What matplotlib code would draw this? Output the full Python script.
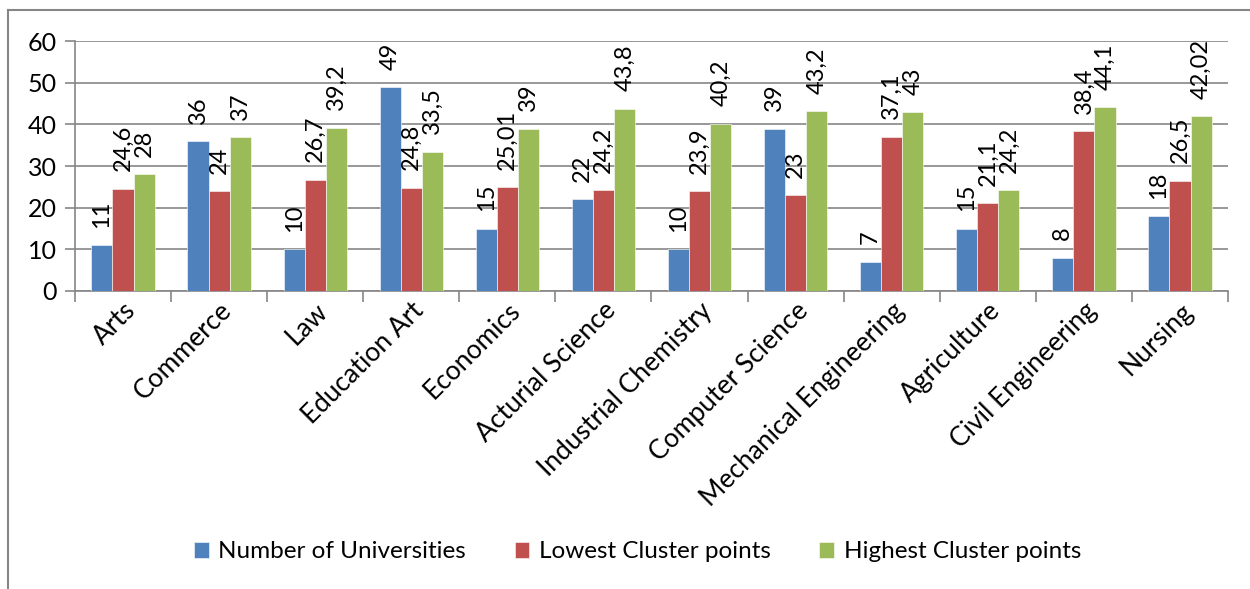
import matplotlib.pyplot as plt
import numpy as np
from matplotlib.lines import Line2D

categories = ["Arts", "Commerce", "Law", "Education Art", "Economics",
              "Acturial Science", "Industrial Chemistry", "Computer Science",
              "Mechanical Engineering", "Agriculture", "Civil Engineering",
              "Nursing"]
universities = [11, 36, 10, 49, 15, 22, 10, 39, 7, 15, 8, 18]
lowest = [24.6, 24, 26.7, 24.8, 25.01, 24.2, 23.9, 23, 37.1, 21.1, 38.4, 26.5]
highest = [28, 37, 39.2, 33.5, 39, 43.8, 40.2, 43.2, 43, 24.2, 44.1, 42.02]
uni_labels = ["11", "36", "10", "49", "15", "22", "10", "39", "7", "15", "8", "18"]
low_labels = ["24,6", "24", "26,7", "24,8", "25,01", "24,2", "23,9", "23",
              "37,1", "21,1", "38,4", "26,5"]
high_labels = ["28", "37", "39,2", "33,5", "39", "43,8", "40,2", "43,2",
               "43", "24,2", "44,1", "42,02"]

series = [
    ("Number of Universities", universities, uni_labels, "#4f81bd"),
    ("Lowest Cluster points", lowest, low_labels, "#c0504d"),
    ("Highest Cluster points", highest, high_labels, "#9bbb59"),
]

plt.rcParams["font.family"] = ["Lato", "DejaVu Sans"]
grey = "#868686"

fig = plt.figure(figsize=(12.5, 5.89), dpi=100)
ax = fig.add_axes([0.06, 0.506, 0.9224, 0.424])

x = np.arange(len(categories))
w = 0.22
for i, (name, vals, labs, col) in enumerate(series):
    pos = x + (i - 1) * w
    ax.bar(pos, vals, width=w, color=col, label=name, zorder=3,
           edgecolor="white", linewidth=0.4)
    for p, v, lab in zip(pos, vals, labs):
        ax.annotate(lab, (p, v), xytext=(0, 12.5), textcoords="offset points",
                    rotation=90, ha="center", va="bottom", fontsize=17,
                    annotation_clip=False)

ax.set_xlim(-0.5, len(categories) - 0.5)
ax.set_ylim(0, 60)
ax.set_yticks(range(0, 61, 10))
ax.set_xticks(x)
ax.set_xticklabels(categories, rotation=45, ha="right",
                   rotation_mode="anchor", fontsize=19)
ax.set_xticks(np.arange(-0.5, len(categories)), minor=True)
ax.tick_params(axis="x", which="major", length=0, pad=5)
ax.tick_params(axis="x", which="minor", length=8, color=grey, width=1.2,
               direction="out")
ax.tick_params(axis="y", labelsize=18, length=7, color=grey, width=1.2, pad=6)
ax.grid(axis="y", color=grey, linewidth=1.2, zorder=0)
for s in ["top", "right"]:
    ax.spines[s].set_visible(False)
for s in ["left", "bottom"]:
    ax.spines[s].set_color(grey)
    ax.spines[s].set_linewidth(1.2)

fig.legend(loc="center", bbox_to_anchor=(0.51, 0.063), ncol=3, frameon=False,
           fontsize=17.5, handlelength=0.6, handleheight=0.6,
           handletextpad=0.4, columnspacing=2.0)

# chart border (partially outside the picture)
fig.add_artist(Line2D([8 / 1250, 8 / 1250], [0, 1 - 10 / 589], color=grey,
                      linewidth=1.5))
fig.add_artist(Line2D([8 / 1250, 1], [1 - 10 / 589, 1 - 10 / 589],
                      color=grey, linewidth=1.5))

fig.savefig("out.png", dpi=100)
